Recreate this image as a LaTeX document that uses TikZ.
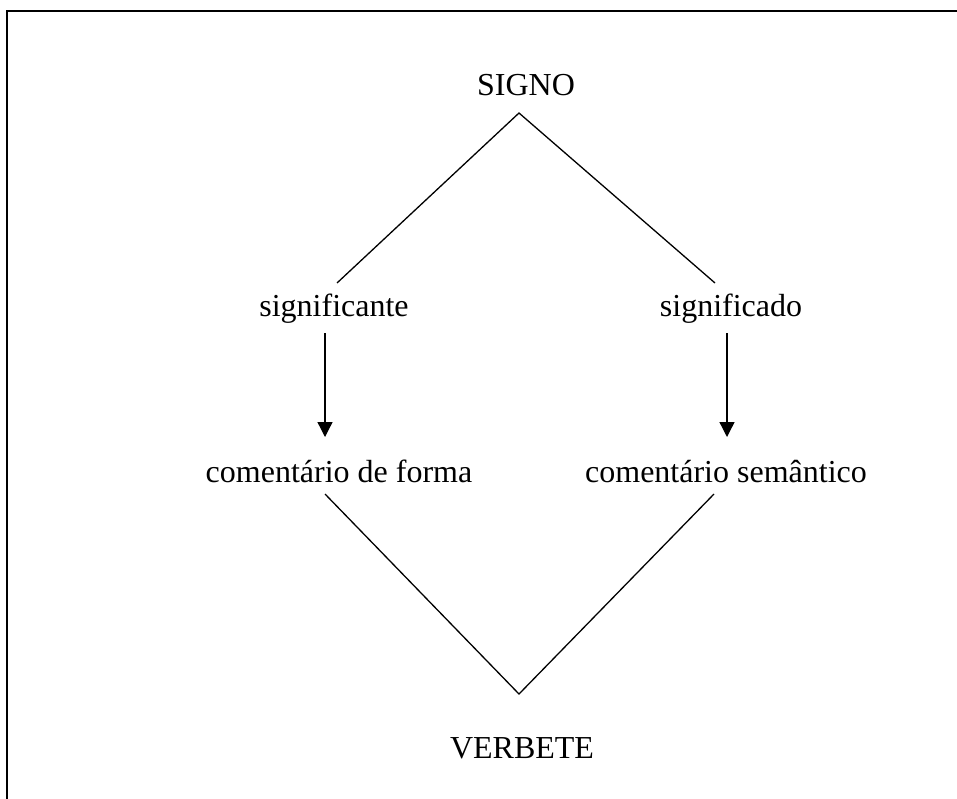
\documentclass[tikz,border=0pt]{standalone}
\usepackage{fontspec}
\setmainfont{Liberation Serif}
\usetikzlibrary{arrows.meta}
\begin{document}
\begin{tikzpicture}[x=1pt,y=-1pt,
  lbl/.style={inner sep=0pt,anchor=base,font=\fontsize{32}{38}\selectfont},
  conn/.style={line width=1.3pt},
  arr/.style={line width=1.3pt,-{Triangle[width=15pt,length=15pt]}},
  frame/.style={line width=2pt}]
\useasboundingbox (0,0) rectangle (957,798);
\draw[frame] (957,11) -- (7,11) -- (7,799);
\node[lbl] (signo) at (526,95) {SIGNO};
\node[lbl] (ste) at (334,316) {significante};
\node[lbl] (sdo) at (731,316) {significado};
\node[lbl] (cf) at (339,482) {comentário de forma};
\node[lbl] (cs) at (726,482) {comentário semântico};
\node[lbl] (verb) at (522,758) {VERBETE};
\coordinate (top) at (519,113);
\coordinate (tl) at (337,283);
\coordinate (tr) at (715,283);
\coordinate (bot) at (519,694);
\coordinate (bl) at (325,494);
\coordinate (br) at (714,494);
\coordinate (a1s) at (325,333);
\coordinate (a1e) at (325,437);
\coordinate (a2s) at (727,333);
\coordinate (a2e) at (727,437);
\draw[conn] (tl) -- (top) -- (tr);
\draw[conn] (bl) -- (bot) -- (br);
\draw[arr] (a1s) -- (a1e);
\draw[arr] (a2s) -- (a2e);
\end{tikzpicture}
\end{document}
